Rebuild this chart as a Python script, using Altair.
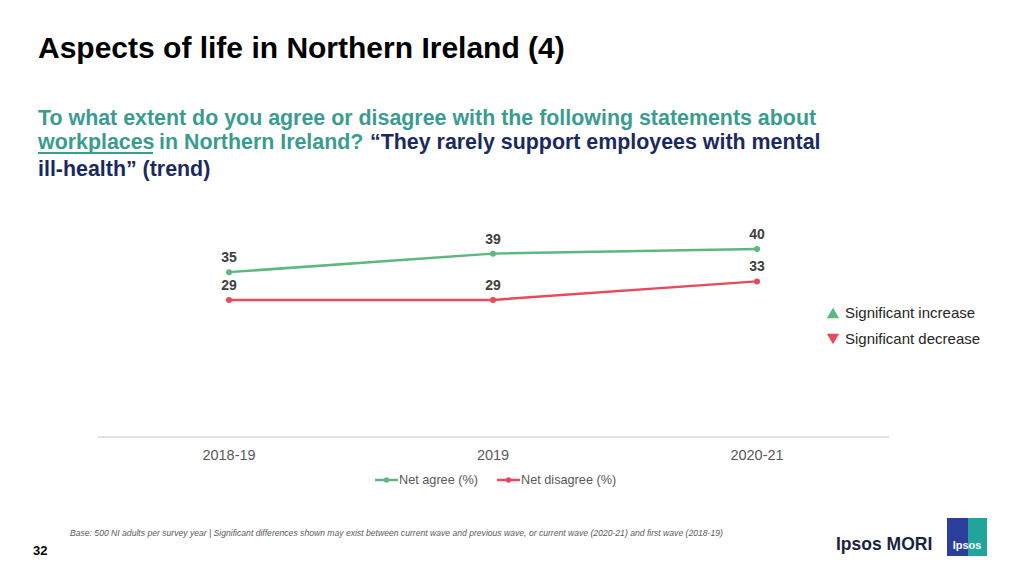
import altair as alt
import pandas as pd

# ---- data ----
waves = ["2018-19", "2019", "2020-21"]
net_agree = [35, 39, 40]
net_disagree = [29, 29, 33]
series_names = ["Net agree (%)", "Net disagree (%)"]
series_colors = ["#5cb87e", "#e8495b"]

title_text = "Aspects of life in Northern Ireland (4)"
q_line1 = "To what extent do you agree or disagree with the following statements about"
q_word = "workplaces"
q_line2a = "in Northern Ireland?"
q_line2b = "\u201cThey rarely support employees with mental"
q_line3 = "ill-health\u201d (trend)"
sig_labels = ["Significant increase", "Significant decrease"]
footer = ("Base: 500 NI adults per survey year | Significant differences shown may exist between "
          "current wave and previous wave, or current wave (2020-21) and first wave (2018-19)")
page_no = "32"

FONT = "Liberation Sans"
TEAL = "#3a9c8f"
NAVY = "#1a2a5e"

rows = []
for w, a, d in zip(waves, net_agree, net_disagree):
    rows.append({"wave": w, "series": series_names[0], "value": a})
    rows.append({"wave": w, "series": series_names[1], "value": d})
df = pd.DataFrame(rows)

one = alt.Data(values=[{"k": 1}])


def txt(s, x, y, size, color, weight="normal", style="normal", align="left", baseline="alphabetic"):
    return alt.Chart(alt.Data(values=[{"t": s}])).mark_text(
        align=align, baseline=baseline, font=FONT, fontSize=size,
        fontWeight=weight, fontStyle=style, color=color
    ).encode(x=alt.value(x), y=alt.value(y), text="t:N")


X = alt.X("wave:N", sort=waves,
          scale=alt.Scale(type="point", domain=waves, range=[221, 749], padding=0), axis=None)
Y = alt.Y("value:Q", scale=alt.Scale(domain=[0, 40], range=[426, 241], nice=False, zero=True), axis=None)
C = alt.Color("series:N", scale=alt.Scale(domain=series_names, range=series_colors), legend=None)

base = alt.Chart(df)
lines = base.mark_line(strokeWidth=2.5).encode(x=X, y=Y, color=C)
points = base.mark_circle(size=36, opacity=1).encode(x=X, y=Y, color=C)
labels = base.mark_text(dy=-10, baseline="alphabetic", font=FONT, fontSize=14,
                        fontWeight="bold", color="#404040").encode(x=X, y=Y, text="value:Q")

axis_line = alt.Chart(one).mark_rule(color="#d9d9d9", strokeWidth=1.5).encode(
    x=alt.value(90), x2=alt.value(881), y=alt.value(429))
axis_labels = alt.Chart(pd.DataFrame({"wave": waves})).mark_text(
    font=FONT, fontSize=14.5, color="#595959", baseline="alphabetic").encode(
    x=X, y=alt.value(452), text="wave:N")

layers = [axis_line, lines, points, labels, axis_labels]

# bottom legend
for name, col, lx in zip(series_names, series_colors, [367, 489]):
    layers.append(alt.Chart(one).mark_rule(color=col, strokeWidth=2.5).encode(
        x=alt.value(lx), x2=alt.value(lx + 23), y=alt.value(472)))
    layers.append(alt.Chart(one).mark_circle(color=col, size=30, opacity=1).encode(
        x=alt.value(lx + 11.5), y=alt.value(472)))
    layers.append(txt(name, lx + 24, 472, 12.7, "#595959", baseline="middle"))

# significance key
for lab, col, shp, yy in zip(sig_labels, series_colors, ["triangle-up", "triangle-down"], [305, 331]):
    layers.append(alt.Chart(one).mark_point(shape=shp, filled=True, color=col, size=150, opacity=1).encode(
        x=alt.value(825), y=alt.value(yy)))
    layers.append(txt(lab, 837, yy, 15, "#262626", baseline="middle"))

# titles
layers += [
    txt(title_text, 30, 50, 30, "#000000", weight="bold"),
    txt(q_line1, 30, 117, 21.4, TEAL, weight="bold"),
    txt(q_word, 30, 141, 21.4, TEAL, weight="bold"),
    alt.Chart(one).mark_rule(color=TEAL, strokeWidth=2).encode(
        x=alt.value(30), x2=alt.value(145), y=alt.value(145)),
    txt(q_line2a, 151, 141, 21.4, TEAL, weight="bold"),
    txt(q_line2b, 362, 141, 21.4, NAVY, weight="bold"),
    txt(q_line3, 30, 168, 21.4, NAVY, weight="bold"),
]

# footer
layers += [
    txt(footer, 62, 525, 8.6, "#595959", style="italic", baseline="middle"),
    txt(page_no, 25, 543, 13, "#000000", weight="bold", baseline="middle"),
    txt("Ipsos MORI", 828, 537, 17.5, "#1c2340", weight="bold", baseline="middle"),
    alt.Chart(one).mark_rect(color="#2c3e9c").encode(
        x=alt.value(939), x2=alt.value(960), y=alt.value(510), y2=alt.value(548)),
    alt.Chart(one).mark_rect(color="#20a49c").encode(
        x=alt.value(960), x2=alt.value(979), y=alt.value(510), y2=alt.value(548)),
    txt("Ipsos", 959, 538, 11, "#ffffff", weight="bold", align="center", baseline="middle"),
]

chart = alt.layer(*layers).properties(
    width=1008, height=560,
    autosize=alt.AutoSizeParams(type="none"),
    padding=0,
    background="white",
).configure_view(stroke=None)

chart.save("out.html", embed_options={"renderer": "svg", "actions": False})
